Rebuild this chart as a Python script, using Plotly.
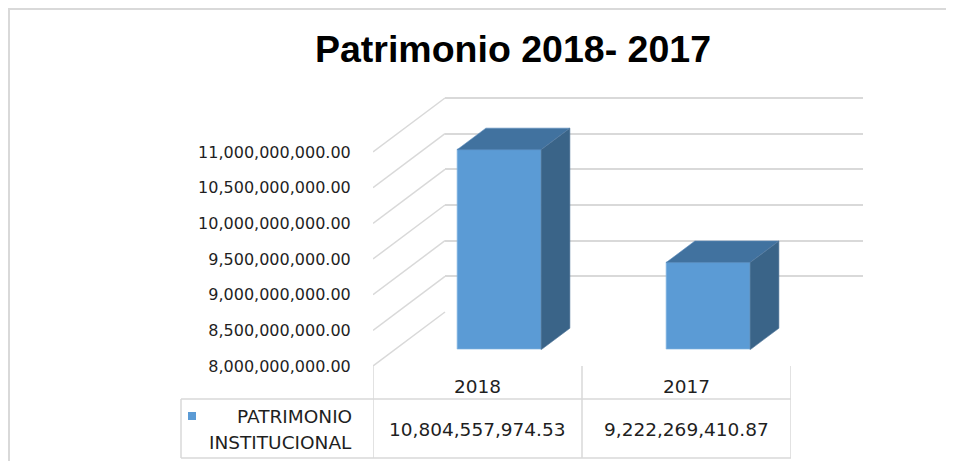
import plotly.graph_objects as go

# ---------------- data ----------------
CATEGORIES = ["2018", "2017"]
SERIES_NAME = ["PATRIMONIO", "INSTITUCIONAL"]
VALUES = [10804557974.53, 9222269410.87]
TICK_VALUES = [8.0e9, 8.5e9, 9.0e9, 9.5e9, 10.0e9, 10.5e9, 11.0e9]
TITLE = "Patrimonio 2018- 2017"

# ---------------- geometry / style ----------------
PAGE_OFF = 8                  # default body margin of the html page
W, H = 954 - PAGE_OFF, 461 - PAGE_OFF
FX0, FX1 = 373, 791          # front plane left/right (window px)
Y_MIN, Y_MAX = 8.0e9, 12.0e9
PY_MIN = 366                  # window pixel row of Y_MIN on the front plane
PX_PER_UNIT = 214 / 3.0e9
PY_MAX = PY_MIN - (Y_MAX - Y_MIN) * PX_PER_UNIT
DEPTH_DX, DEPTH_DY = 72, 54   # full depth offset (px)
BAR_D0, BAR_D1 = 0.3, 0.7     # bar depth span (fraction)
BAR_FRONT_W_PX = 84
CAT_PX = (FX1 - FX0) / len(CATEGORIES)

GRID = "#d9d9d9"
TXT = "#1f1f1f"
FRONT = "#5b9bd5"
TOP = "#41729f"
SIDE = "#3a6488"
FONT = "DejaVu Sans"


def px(p):
    return (p - PAGE_OFF) / W


def py(p):
    return (H - (p - PAGE_OFF)) / H


def xdom(shift):
    return [px(FX0 + shift), px(FX1 + shift)]


def ydom(shift):
    return [py(PY_MIN - shift), py(PY_MAX - shift)]


fig = go.Figure()

xs = list(range(len(CATEGORIES)))

# anchor trace for the back wall subplot (keeps its gridlines drawn)
fig.add_trace(go.Scatter(x=[-0.5, len(CATEGORIES) - 0.5], y=[Y_MIN, Y_MIN], mode="lines",
                         line=dict(color="rgba(0,0,0,0)", width=0),
                         xaxis="x", yaxis="y", hoverinfo="skip", showlegend=False))

# side wall diagonals (front plane axes x2/y2)
ddx = DEPTH_DX / CAT_PX
ddy = DEPTH_DY / PX_PER_UNIT
lx, ly = [], []
for t in TICK_VALUES:
    lx += [-0.5, -0.5 + ddx, None]
    ly += [t, t + ddy, None]
fig.add_trace(go.Scatter(x=lx, y=ly, mode="lines", line=dict(color=GRID, width=1.5),
                         xaxis="x2", yaxis="y2", hoverinfo="skip", showlegend=False))

# bars (front faces) on bar-depth axes x3/y3
bw = BAR_FRONT_W_PX / CAT_PX
fig.add_trace(go.Bar(x=xs, y=[v - Y_MIN for v in VALUES], base=Y_MIN, width=bw,
                     marker=dict(color=FRONT, line=dict(color="#7eb1e0", width=0.8)),
                     xaxis="x3", yaxis="y3", name=" ".join(SERIES_NAME),
                     hovertext=CATEGORIES, showlegend=False))

bdx = (BAR_D1 - BAR_D0) * DEPTH_DX / CAT_PX
bdy = (BAR_D1 - BAR_D0) * DEPTH_DY / PX_PER_UNIT
for c, v in zip(xs, VALUES):
    l, r = c - bw / 2, c + bw / 2
    # top face
    fig.add_trace(go.Scatter(x=[l, r, r + bdx, l + bdx, l], y=[v, v, v + bdy, v + bdy, v],
                             fill="toself", fillcolor=TOP, mode="lines",
                             line=dict(color="#5a8cbc", width=0.6),
                             xaxis="x3", yaxis="y3", hoverinfo="skip", showlegend=False))
    # side face
    fig.add_trace(go.Scatter(x=[r, r + bdx, r + bdx, r, r], y=[Y_MIN, Y_MIN + bdy, v + bdy, v, Y_MIN],
                             fill="toself", fillcolor=SIDE, mode="lines",
                             line=dict(color="#54799c", width=0.6),
                             xaxis="x3", yaxis="y3", hoverinfo="skip", showlegend=False))

hidden_x = dict(range=[-0.5, len(CATEGORIES) - 0.5], showgrid=False, zeroline=False,
                showticklabels=False, ticks="", showline=False, fixedrange=True, automargin=False)

fig.update_layout(
    template="none",
    width=W, height=H,
    margin=dict(l=0, r=0, t=0, b=0, pad=0, autoexpand=False),
    paper_bgcolor="white",
    plot_bgcolor="rgba(0,0,0,0)",
    showlegend=False,
    bargap=0,
    # back wall
    xaxis=dict(domain=xdom(DEPTH_DX), anchor="y", **hidden_x),
    yaxis=dict(domain=ydom(DEPTH_DY), anchor="x", range=[Y_MIN, Y_MAX], automargin=False,
               tickvals=TICK_VALUES, showticklabels=False, ticks="", showline=False,
               showgrid=True, gridcolor=GRID, gridwidth=1.5, zeroline=False, fixedrange=True),
    # front plane (tick labels)
    xaxis2=dict(domain=xdom(0), anchor="y2", **hidden_x),
    yaxis2=dict(domain=ydom(0), anchor="x2", range=[Y_MIN, Y_MAX], automargin=False,
                tickvals=TICK_VALUES, tickformat=",.2f", showgrid=False, zeroline=False,
                ticks="outside", ticklen=18, tickcolor="rgba(0,0,0,0)",
                tickfont=dict(family=FONT, size=16, color=TXT), showline=False, fixedrange=True),
    # bar depth plane
    xaxis3=dict(domain=xdom(BAR_D0 * DEPTH_DX), anchor="y3", **hidden_x),
    yaxis3=dict(domain=ydom(BAR_D0 * DEPTH_DY), anchor="x3", range=[Y_MIN, Y_MAX], automargin=False,
                showgrid=False, zeroline=False, showticklabels=False, ticks="", showline=False,
                fixedrange=True),
)

shapes = []
# outer chart border (top edge sits at the top of the drawable page area)
shapes.append(dict(type="rect", xref="paper", yref="paper", x0=px(9), x1=1.05, y0=-0.05, y1=py(9),
                   line=dict(color=GRID, width=2)))
# data table vertical lines at category boundaries
for b in [i - 0.5 for i in range(len(CATEGORIES) + 1)]:
    shapes.append(dict(type="line", xref="x2", yref="paper", x0=b, x1=b, y0=py(366), y1=py(458),
                       line=dict(color=GRID, width=1.5)))
# legend cell
shapes.append(dict(type="line", xref="paper", yref="paper", x0=px(181), x1=px(181), y0=py(399), y1=py(458),
                   line=dict(color=GRID, width=1.5)))
for row in (399, 458):
    shapes.append(dict(type="line", xref="paper", yref="paper", x0=px(181), x1=px(FX1), y0=py(row), y1=py(row),
                       line=dict(color=GRID, width=1.5)))
# legend key
shapes.append(dict(type="rect", xref="paper", yref="paper", x0=px(188), x1=px(196), y0=py(420), y1=py(412),
                   fillcolor=FRONT, line=dict(width=0)))
fig.update_layout(shapes=shapes)

ann = []
ann.append(dict(text=TITLE, xref="paper", yref="paper", x=px(513), y=py(49), showarrow=False,
                xanchor="center", yanchor="middle",
                font=dict(family="Liberation Sans", size=37.5, color="black", weight="bold")))
for c, name, v in zip(xs, CATEGORIES, VALUES):
    ann.append(dict(text=name, xref="x2", yref="paper", x=c, y=py(386), showarrow=False,
                    xanchor="center", yanchor="middle", font=dict(family=FONT, size=18.5, color=TXT)))
    ann.append(dict(text=f"{v:,.2f}", xref="x2", yref="paper", x=c, y=py(429), showarrow=False,
                    xanchor="center", yanchor="middle", font=dict(family=FONT, size=18.5, color=TXT)))
for line_txt, yy in zip(SERIES_NAME, (416, 442)):
    ann.append(dict(text=line_txt, xref="paper", yref="paper", x=px(354), y=py(yy), showarrow=False,
                    xanchor="right", yanchor="middle", font=dict(family=FONT, size=18.5, color=TXT)))
fig.update_layout(annotations=ann)

fig.write_html("out.html")
